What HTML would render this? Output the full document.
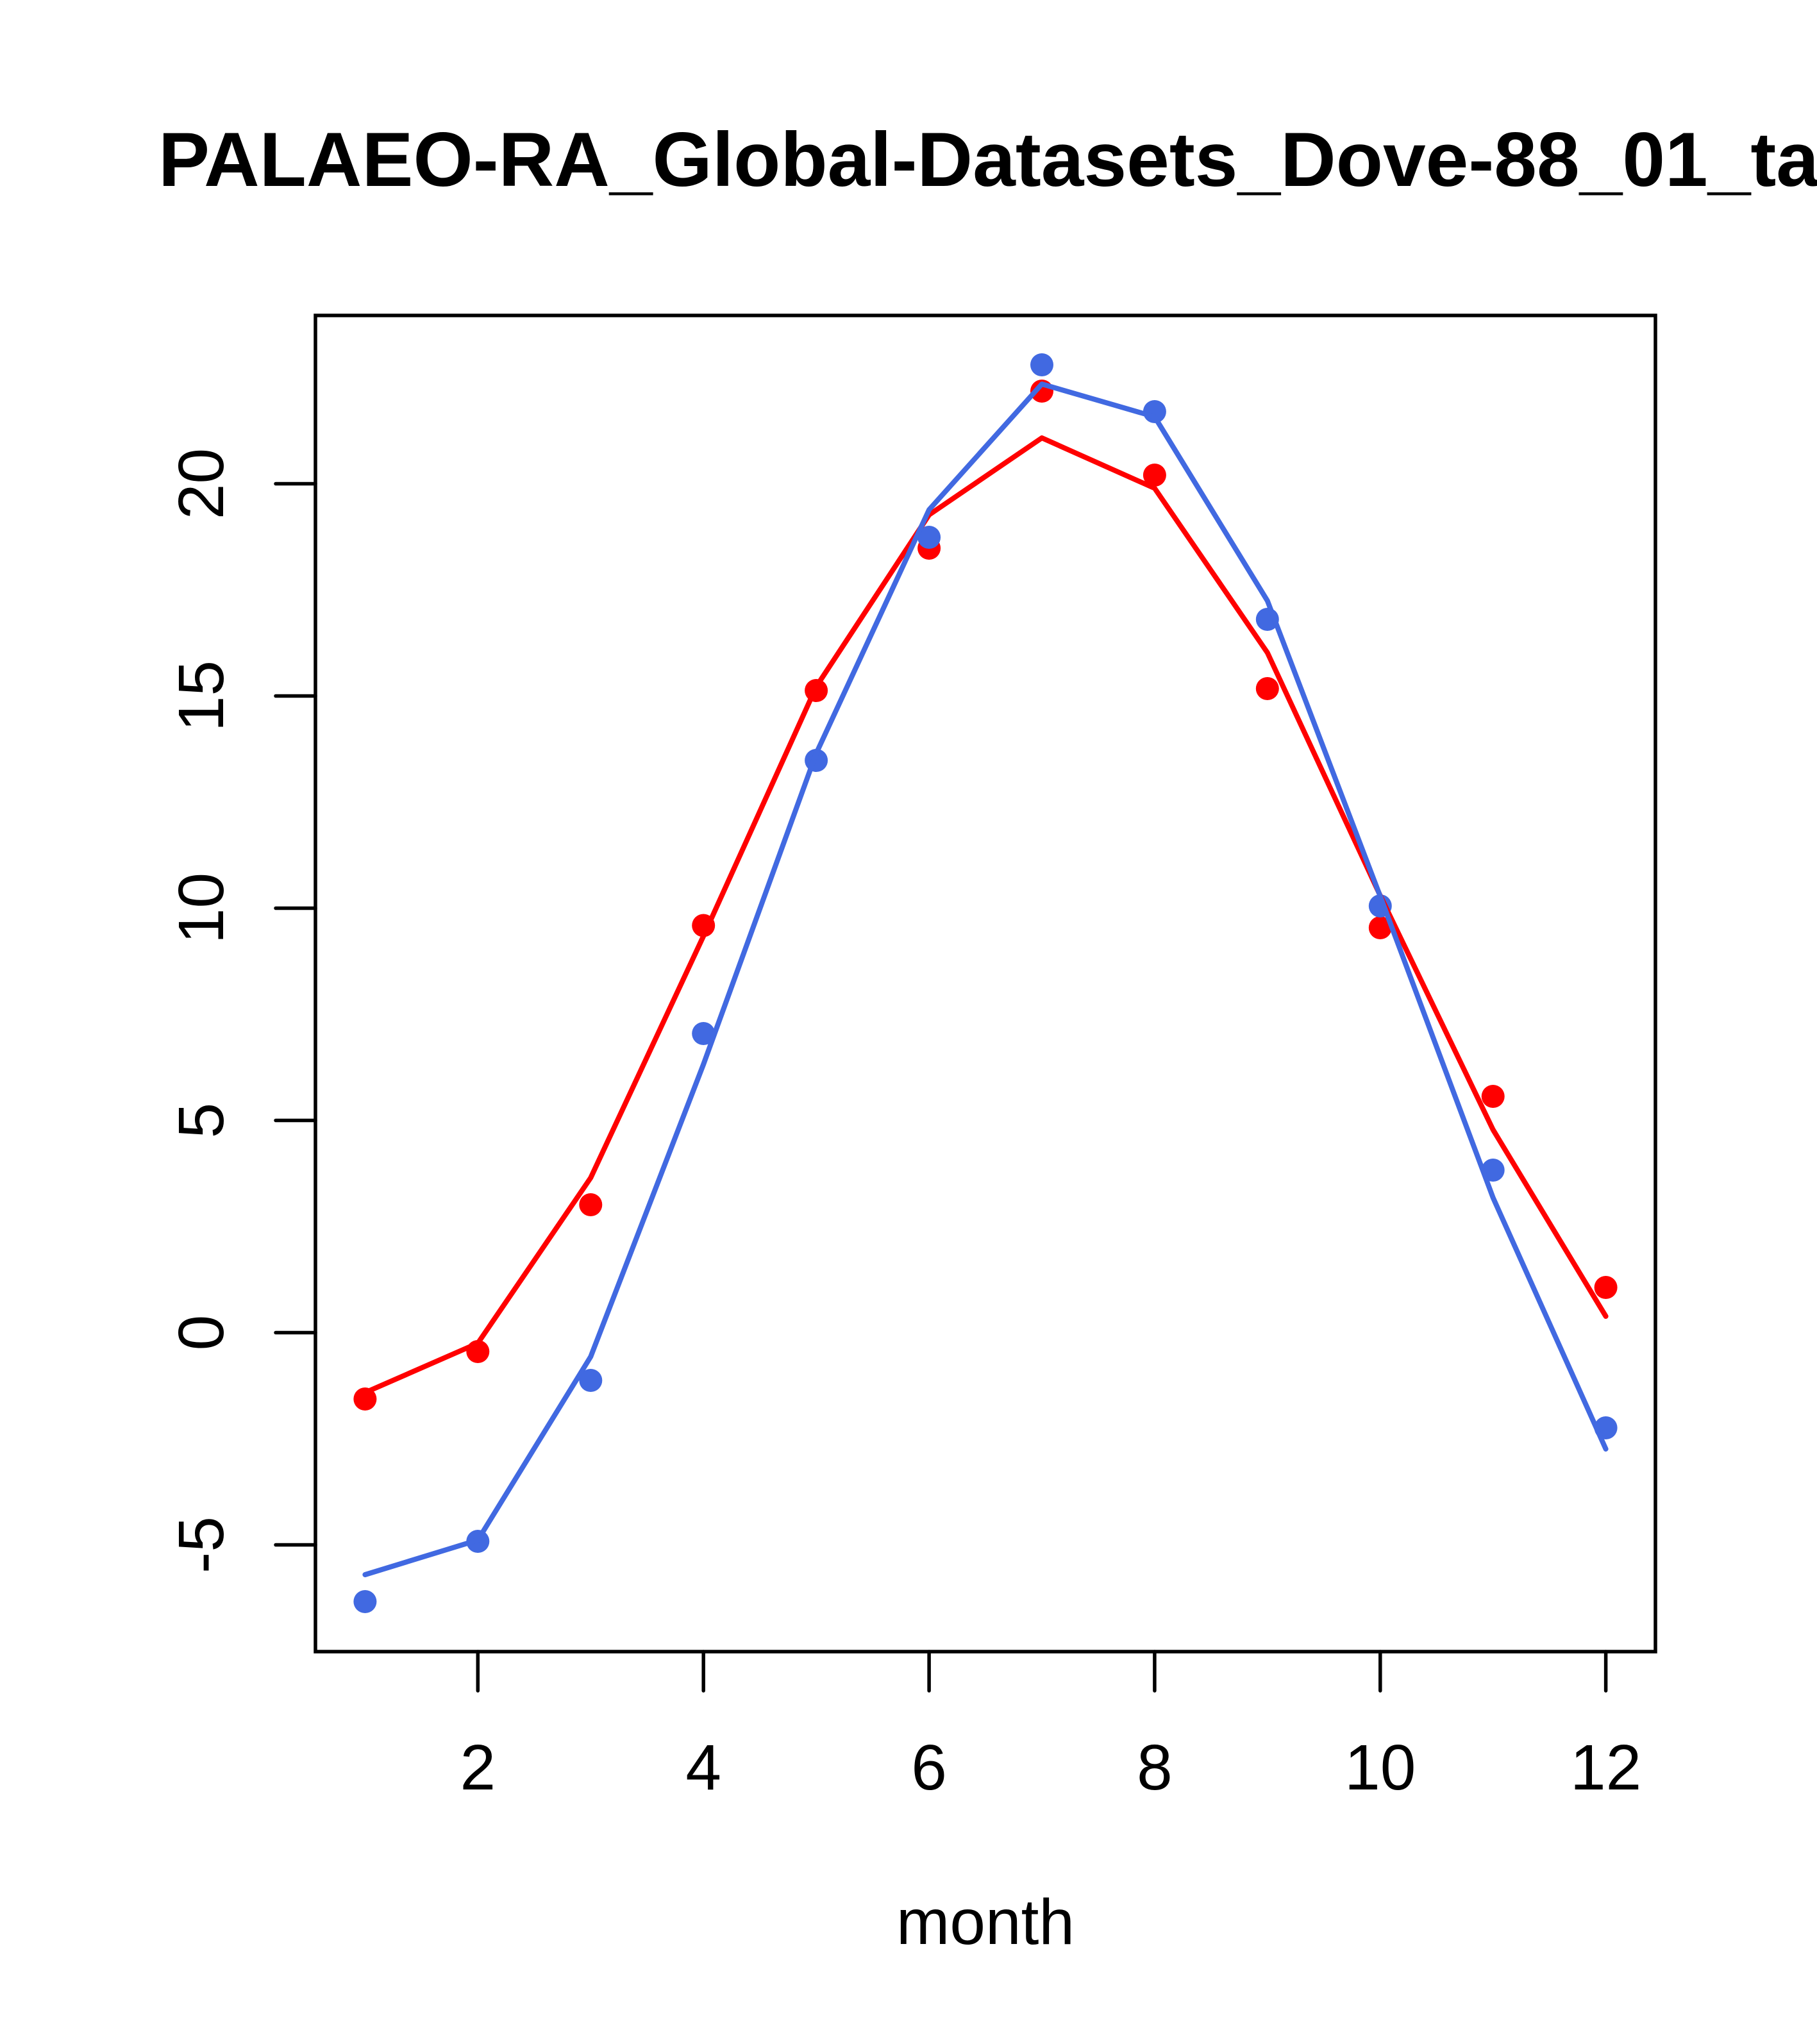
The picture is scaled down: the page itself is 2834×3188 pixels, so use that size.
<!DOCTYPE html>
<html>
<head>
<meta charset="utf-8">
<style>
  html, body { margin: 0; padding: 0; background: #ffffff; }
  body { width: 2834px; height: 3188px; overflow: hidden; }
  svg { display: block; }
  text { font-family: "Liberation Sans", Arial, Helvetica, sans-serif; fill: #000; }
</style>
</head>
<body>
<svg width="2834" height="3188" viewBox="0 0 2834 3188" xmlns="http://www.w3.org/2000/svg">
  <rect x="0" y="0" width="2834" height="3188" fill="#ffffff"/>

  <!-- Title -->
  <text x="247" y="290" font-size="120" font-weight="bold" textLength="2590" lengthAdjust="spacingAndGlyphs">PALAEO-RA_Global-Datasets_Dove-88_01_ta</text>

  <!-- Red points -->
  <g fill="#FF0000">
    <circle cx="569.4" cy="2182" r="18"/>
    <circle cx="745.3" cy="2108" r="18"/>
    <circle cx="921.3" cy="1879" r="18"/>
    <circle cx="1097.2" cy="1443.5" r="18"/>
    <circle cx="1273.1" cy="1077" r="18"/>
    <circle cx="1449.1" cy="855" r="18"/>
    <circle cx="1625.0" cy="610" r="18"/>
    <circle cx="1800.9" cy="741" r="18"/>
    <circle cx="1976.8" cy="1074" r="18"/>
    <circle cx="2152.8" cy="1447" r="18"/>
    <circle cx="2328.7" cy="1710" r="18"/>
    <circle cx="2504.6" cy="2008" r="18"/>
  </g>

  <!-- Blue points -->
  <g fill="#4169E1">
    <circle cx="569.4" cy="2498" r="18"/>
    <circle cx="745.3" cy="2404" r="18"/>
    <circle cx="921.3" cy="2153" r="18"/>
    <circle cx="1097.2" cy="1612" r="18"/>
    <circle cx="1273.1" cy="1186" r="18"/>
    <circle cx="1449.1" cy="838" r="18"/>
    <circle cx="1625.0" cy="569" r="18"/>
    <circle cx="1800.9" cy="642" r="18"/>
    <circle cx="1976.8" cy="966" r="18"/>
    <circle cx="2152.8" cy="1413" r="18"/>
    <circle cx="2328.7" cy="1825" r="18"/>
    <circle cx="2504.6" cy="2227" r="18"/>
  </g>

  <!-- Red line -->
  <polyline fill="none" stroke="#FF0000" stroke-width="8" stroke-linecap="round" stroke-linejoin="round"
    points="569.4,2172 745.3,2095 921.3,1837 1097.2,1460 1273.1,1071 1449.1,803 1625.0,683 1800.9,761.5 1976.8,1018 2152.8,1397 2328.7,1762 2504.6,2053"/>

  <!-- Blue line -->
  <polyline fill="none" stroke="#4169E1" stroke-width="8" stroke-linecap="round" stroke-linejoin="round"
    points="569.4,2456 745.3,2402 921.3,2116 1097.2,1660 1273.1,1175 1449.1,795 1625.0,599 1800.9,650 1976.8,937 2152.8,1398 2328.7,1868 2504.6,2260"/>

  <!-- Plot box -->
  <rect x="492" y="492" width="2090" height="2084" fill="none" stroke="#000" stroke-width="5.5"/>

  <!-- Y axis ticks -->
  <g stroke="#000" stroke-width="5.5" stroke-linecap="round">
    <line x1="430" y1="2409.5" x2="492" y2="2409.5"/>
    <line x1="430" y1="2078.5" x2="492" y2="2078.5"/>
    <line x1="430" y1="1747.5" x2="492" y2="1747.5"/>
    <line x1="430" y1="1416.5" x2="492" y2="1416.5"/>
    <line x1="430" y1="1085.5" x2="492" y2="1085.5"/>
    <line x1="430" y1="754.5" x2="492" y2="754.5"/>
  </g>

  <!-- X axis ticks -->
  <g stroke="#000" stroke-width="5.5" stroke-linecap="round">
    <line x1="745.3" y1="2576" x2="745.3" y2="2637"/>
    <line x1="1097.2" y1="2576" x2="1097.2" y2="2637"/>
    <line x1="1449.1" y1="2576" x2="1449.1" y2="2637"/>
    <line x1="1800.9" y1="2576" x2="1800.9" y2="2637"/>
    <line x1="2152.8" y1="2576" x2="2152.8" y2="2637"/>
    <line x1="2504.6" y1="2576" x2="2504.6" y2="2637"/>
  </g>

  <!-- Y tick labels (rotated) -->
  <g font-size="100" text-anchor="middle">
    <text x="348" y="2409.5" transform="rotate(-90 348 2409.5)">-5</text>
    <text x="348" y="2078.5" transform="rotate(-90 348 2078.5)">0</text>
    <text x="348" y="1747.5" transform="rotate(-90 348 1747.5)">5</text>
    <text x="348" y="1416.5" transform="rotate(-90 348 1416.5)">10</text>
    <text x="348" y="1085.5" transform="rotate(-90 348 1085.5)">15</text>
    <text x="348" y="754.5" transform="rotate(-90 348 754.5)">20</text>
  </g>

  <!-- X tick labels -->
  <g font-size="100" text-anchor="middle">
    <text x="745.3" y="2791">2</text>
    <text x="1097.2" y="2791">4</text>
    <text x="1449.1" y="2791">6</text>
    <text x="1800.9" y="2791">8</text>
    <text x="2152.8" y="2791">10</text>
    <text x="2504.6" y="2791">12</text>
  </g>

  <!-- X axis label -->
  <text x="1537" y="3032" font-size="100" text-anchor="middle">month</text>
</svg>
</body>
</html>
